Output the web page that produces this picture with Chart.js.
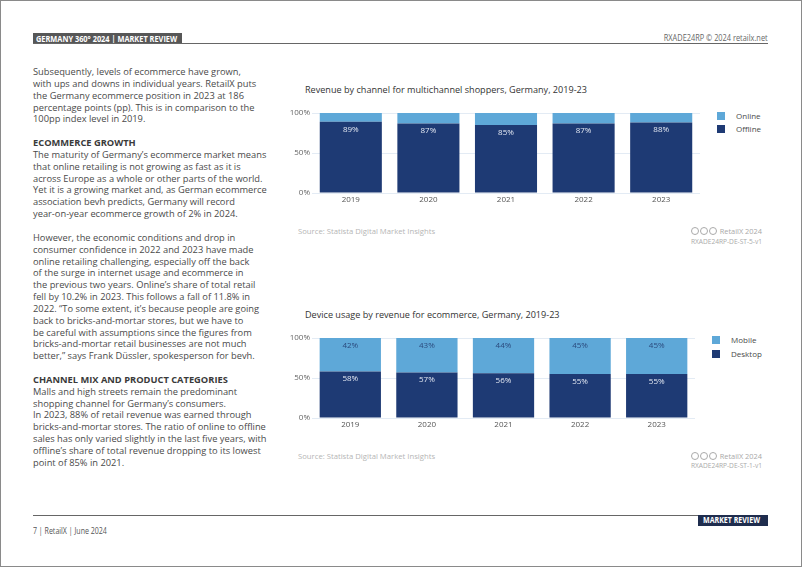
<!DOCTYPE html>
<html>
<head>
<meta charset="utf-8">
<script src="https://cdn.jsdelivr.net/npm/chart.js@4.4.0/dist/chart.umd.min.js"></script>
<style>
  html, body { margin: 0; padding: 0; background: #fff; }
  body { width: 802px; height: 567px; position: relative; overflow: hidden; font-family: "Open Sans", sans-serif; }
  .frame { position: absolute; left: 0; top: 0; width: 800px; height: 565px; border: 1px solid #8a8a8a; }
  .abs { position: absolute; white-space: nowrap; }
  .squeeze { display: inline-block; transform: scaleX(0.82); transform-origin: 0 50%; }
  .squeeze-r { display: inline-block; transform: scaleX(0.82); transform-origin: 100% 50%; }
  .hdr-box { left: 33px; top: 33px; height: 11px; width: 149px; background: #575757; color: #fff; font-size: 9px; font-weight: bold; line-height: 11px; padding-left: 3px; box-sizing: border-box; overflow: hidden; }
  .hdr-line { left: 33px; top: 43px; width: 735px; height: 1px; background: #666; }
  .hdr-right { right: 34px; top: 33px; font-size: 9px; color: #666; line-height: 10px; }
  .body-text { left: 33px; top: 66px; font-size: 9.3px; line-height: 11.85px; color: #4a4a4a; }
  .body-text b { color: #3a3a3a; }
  .title { left: 305px; font-size: 9.1px; color: #333; }
  .src { left: 298px; font-size: 7.7px; color: #b5b5b5; }
  .rx { right: 40px; font-size: 7.4px; color: #a8a8a8; text-align: right; }
  .code { right: 40px; font-size: 6.6px; color: #aaa; }
  .cc { display: inline-block; width: 6px; height: 6px; border: 1px solid #aaa; border-radius: 50%; margin-right: 1px; vertical-align: -1px; }
  .leg { font-size: 8px; color: #4a4a4a; line-height: 10px; }
  .sw { position: absolute; width: 8px; height: 8px; }
  .ftr-line { left: 33px; top: 515px; width: 665px; height: 1px; background: #666; }
  .ftr-box { left: 698px; top: 515px; width: 70px; height: 11px; background: #1f2d4e; color: #fff; font-size: 8.6px; font-weight: bold; line-height: 11px; padding-left: 5px; box-sizing: border-box; overflow: hidden; }
  .ftr-left { left: 33px; top: 526px; font-size: 8.6px; color: #555; line-height: 11px; }
  canvas { position: absolute; }
</style>
</head>
<body>
<div class="frame"></div>

<div class="abs hdr-box"><span class="squeeze">GERMANY 360° 2024 | MARKET REVIEW</span></div>
<div class="abs hdr-line"></div>
<div class="abs hdr-right"><span class="squeeze-r">RXADE24RP © 2024 retailx.net</span></div>

<div class="abs body-text">
Subsequently, levels of ecommerce have grown,<br>
with ups and downs in individual years. RetailX puts<br>
the Germany ecommerce position in 2023 at 186<br>
percentage points (pp). This is in comparison to the<br>
100pp index level in 2019.<br>
<br>
<b>ECOMMERCE GROWTH</b><br>
The maturity of Germany’s ecommerce market means<br>
that online retailing is not growing as fast as it is<br>
across Europe as a whole or other parts of the world.<br>
Yet it is a growing market and, as German ecommerce<br>
association bevh predicts, Germany will record<br>
year-on-year ecommerce growth of 2% in 2024.<br>
<br>
However, the economic conditions and drop in<br>
consumer confidence in 2022 and 2023 have made<br>
online retailing challenging, especially off the back<br>
of the surge in internet usage and ecommerce in<br>
the previous two years. Online’s share of total retail<br>
fell by 10.2% in 2023. This follows a fall of 11.8% in<br>
2022. “To some extent, it’s because people are going<br>
back to bricks-and-mortar stores, but we have to<br>
be careful with assumptions since the figures from<br>
bricks-and-mortar retail businesses are not much<br>
better,” says Frank Düssler, spokesperson for bevh.<br>
<br>
<b>CHANNEL MIX AND PRODUCT CATEGORIES</b><br>
Malls and high streets remain the predominant<br>
shopping channel for Germany’s consumers.<br>
In 2023, 88% of retail revenue was earned through<br>
bricks-and-mortar stores. The ratio of online to offline<br>
sales has only varied slightly in the last five years, with<br>
offline’s share of total revenue dropping to its lowest<br>
point of 85% in 2021.
</div>

<!-- chart 1 -->
<div class="abs title" style="top:83px">Revenue by channel for multichannel shoppers, Germany, 2019-23</div>
<canvas id="chart1" style="left:280px; top:103px" width="420" height="105"></canvas>
<div id="legend1"></div>
<div class="abs src" style="top:226px">Source: Statista Digital Market Insights</div>
<div class="abs rx" style="top:226px"><span class="cc"></span><span class="cc"></span><span class="cc"></span> RetailX 2024</div>
<div class="abs code" style="top:237px">RXADE24RP-DE-ST-5-v1</div>

<!-- chart 2 -->
<div class="abs title" style="top:308px">Device usage by revenue for ecommerce, Germany, 2019-23</div>
<canvas id="chart2" style="left:280px; top:328px" width="415" height="105"></canvas>
<div id="legend2"></div>
<div class="abs src" style="top:451px">Source: Statista Digital Market Insights</div>
<div class="abs rx" style="top:451px"><span class="cc"></span><span class="cc"></span><span class="cc"></span> RetailX 2024</div>
<div class="abs code" style="top:461px">RXADE24RP-DE-ST-1-v1</div>

<div class="abs ftr-line"></div>
<div class="abs ftr-box"><span class="squeeze">MARKET REVIEW</span></div>
<div class="abs ftr-left"><span class="squeeze">7 | RetailX | June 2024</span></div>

<script>
// data
const years = ["2019", "2020", "2021", "2022", "2023"]
const offline = [89, 87, 85, 87, 88]
const online = [11, 13, 15, 13, 12]
const desktop = [58, 57, 56, 55, 55]
const mobile = [42, 43, 44, 45, 45]
const yTicks = [0, 50, 100]

const DARK = "#1e3a74"
const LIGHT = "#5ea8d8"

// writes the value just under the top of each bar segment
const segmentLabels = {
    id: "segmentLabels",
    afterDatasetsDraw(chart) {
        const ctx = chart.ctx
        ctx.save()
        ctx.font = "8px 'Open Sans'"
        ctx.textAlign = "center"
        ctx.textBaseline = "middle"
        chart.data.datasets.forEach((ds, i) => {
            if (!ds.labelColor) return
            ctx.fillStyle = ds.labelColor
            chart.getDatasetMeta(i).data.forEach((bar, j) => {
                ctx.fillText(ds.data[j] + "%", bar.x, bar.y + 7.5)
            })
        })
        ctx.restore()
    }
}

function makeChart(id, bottom, top) {
    return new Chart(document.getElementById(id), {
        type: "bar",
        data: {
            labels: years,
            datasets: [
                { label: bottom.label, data: bottom.data, backgroundColor: DARK, labelColor: "#e3e8f2", barPercentage: 0.8, categoryPercentage: 1 },
                { label: top.label, data: top.data, backgroundColor: LIGHT, labelColor: top.labelColor, barPercentage: 0.8, categoryPercentage: 1 },
            ],
        },
        options: {
            responsive: false,
            animation: false,
            layout: { padding: { top: 10, left: 0, right: 0, bottom: 0 } },
            plugins: { legend: { display: false }, tooltip: { enabled: false } },
            scales: {
                x: {
                    stacked: true,
                    grid: { display: false, drawTicks: false },
                    border: { display: false },
                    ticks: { color: "#555", font: { family: "Open Sans", size: 8 }, padding: 2 },
                    afterFit: s => { s.height = 15 },
                },
                y: {
                    stacked: true,
                    min: 0,
                    max: 100,
                    afterBuildTicks: s => { s.ticks = yTicks.map(v => ({ value: v })) },
                    grid: { color: "#e3ebf4", drawTicks: false },
                    border: { display: false },
                    ticks: { color: "#666", font: { family: "Open Sans", size: 8 }, padding: 2, callback: v => v + "%" },
                    afterFit: s => { s.width = 32 },
                },
            },
        },
        plugins: [segmentLabels],
    })
}

function makeLegend(id, items, x, ys) {
    const box = document.getElementById(id)
    items.forEach((it, i) => {
        const sw = document.createElement("div")
        sw.className = "sw"
        sw.style.left = x + "px"
        sw.style.top = (ys[i] - 4) + "px"
        sw.style.background = it.color
        box.appendChild(sw)
        const t = document.createElement("div")
        t.className = "abs leg"
        t.style.left = (x + 19) + "px"
        t.style.top = (ys[i] - 5) + "px"
        t.textContent = it.label
        box.appendChild(t)
    })
}

makeChart("chart1", { label: "Offline", data: offline }, { label: "Online", data: online, labelColor: null })
makeChart("chart2", { label: "Desktop", data: desktop }, { label: "Mobile", data: mobile, labelColor: "#2b4a7d" })

makeLegend("legend1", [{ label: "Online", color: LIGHT }, { label: "Offline", color: DARK }], 717, [116, 129])
makeLegend("legend2", [{ label: "Mobile", color: LIGHT }, { label: "Desktop", color: DARK }], 712, [340, 354])
</script>
</body>
</html>
